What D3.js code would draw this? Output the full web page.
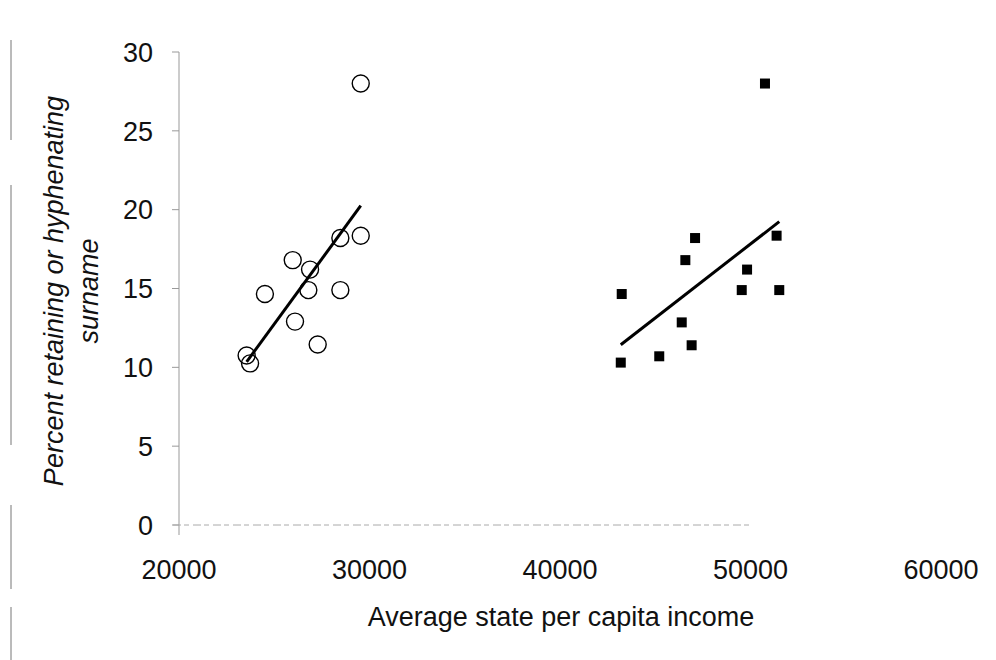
<!DOCTYPE html>
<html>
<head>
<meta charset="utf-8">
<script src="https://cdn.jsdelivr.net/npm/d3@7"></script>
<style>
  html, body { margin: 0; padding: 0; background: #fff; }
  svg { display: block; font-family: "Liberation Sans", Arial, sans-serif; }
</style>
</head>
<body>
<div id="chart"></div>
<script>
// Open circles (left group)
const incomeA = [29540, 28470, 29540, 25970, 26880, 24510, 26790, 28470, 26090, 27280, 23550, 23730];
const percentA = [28.0, 18.2, 18.35, 16.8, 16.2, 14.65, 14.9, 14.9, 12.9, 11.45, 10.75, 10.25];

// Filled squares (right group)
const incomeB = [50760, 47090, 51370, 46580, 49820, 43240, 49540, 51510, 46390, 46910, 45210, 43190];
const percentB = [28.0, 18.2, 18.35, 16.8, 16.2, 14.65, 14.9, 14.9, 12.85, 11.4, 10.7, 10.3];

const xTicks = [20000, 30000, 40000, 50000, 60000];
const yTicks = [0, 5, 10, 15, 20, 25, 30];

const width = 996, height = 660;

const svg = d3.select('#chart').append('svg')
    .attr('width', width)
    .attr('height', height);

const x = d3.scaleLinear().domain([20000, 60000]).range([179, 941]);
const y = d3.scaleLinear().domain([0, 30]).range([525, 52]);

// Scan border remnants on the left edge
svg.append('line')
    .attr('x1', 11).attr('x2', 11).attr('y1', 40).attr('y2', 660)
    .attr('stroke', '#777').attr('stroke-width', 1)
    .attr('stroke-dasharray', '100,45,260,60,84,18,60');

// Y axis (grey, thin)
svg.append('line')
    .attr('x1', x(20000)).attr('x2', x(20000))
    .attr('y1', y(30)).attr('y2', y(0) + 10)
    .attr('stroke', '#999').attr('stroke-width', 1);

svg.append('g').selectAll('line')
    .data(yTicks)
    .join('line')
    .attr('x1', x(20000) - 7).attr('x2', x(20000))
    .attr('y1', d => y(d)).attr('y2', d => y(d))
    .attr('stroke', '#999').attr('stroke-width', 1);

// X axis (faint, broken like the scan)
svg.append('line')
    .attr('x1', x(20000) - 6).attr('x2', x(50000))
    .attr('y1', y(0)).attr('y2', y(0))
    .attr('stroke', '#aaa').attr('stroke-width', 1)
    .attr('stroke-dasharray', '8,3,5,4');

// Y tick labels
svg.append('g').selectAll('text')
    .data(yTicks)
    .join('text')
    .attr('x', 153)
    .attr('y', d => y(d))
    .attr('dy', '0.36em')
    .attr('text-anchor', 'end')
    .attr('font-size', 27)
    .attr('fill', '#111')
    .text(d => d);

// X tick labels
svg.append('g').selectAll('text')
    .data(xTicks)
    .join('text')
    .attr('x', d => x(d))
    .attr('y', 579)
    .attr('text-anchor', 'middle')
    .attr('font-size', 27)
    .attr('fill', '#111')
    .text(d => d);

// Axis titles
svg.append('text')
    .attr('x', 561).attr('y', 626)
    .attr('text-anchor', 'middle')
    .attr('font-size', 27)
    .attr('fill', '#111')
    .text('Average state per capita income');

const yTitle = svg.append('text')
    .attr('transform', 'translate(63,291) rotate(-90)')
    .attr('text-anchor', 'middle')
    .attr('font-size', 27)
    .attr('font-style', 'italic')
    .attr('fill', '#111');
yTitle.append('tspan')
    .attr('x', 0).attr('y', 0)
    .text('Percent retaining or hyphenating');
yTitle.append('tspan')
    .attr('x', 0).attr('y', 35)
    .text('surname');

// Least squares fit
function fit(xs, ys) {
    const mx = d3.mean(xs), my = d3.mean(ys);
    const sxy = d3.sum(xs, (v, i) => (v - mx) * (ys[i] - my));
    const sxx = d3.sum(xs, v => (v - mx) * (v - mx));
    const b = sxy / sxx;
    const [x0, x1] = d3.extent(xs);
    return [[x0, my + b * (x0 - mx)], [x1, my + b * (x1 - mx)]];
}

const line = d3.line().x(d => x(d[0])).y(d => y(d[1]));

[[incomeA, percentA], [incomeB, percentB]].forEach(([xs, ys]) => {
    svg.append('path')
        .attr('d', line(fit(xs, ys)))
        .attr('fill', 'none')
        .attr('stroke', '#000')
        .attr('stroke-width', 3);
});

// Circles
svg.append('g').selectAll('circle')
    .data(incomeA.map((v, i) => [v, percentA[i]]))
    .join('circle')
    .attr('cx', d => x(d[0]))
    .attr('cy', d => y(d[1]))
    .attr('r', 8.5)
    .attr('fill', 'none')
    .attr('stroke', '#000')
    .attr('stroke-width', 1.4);

// Squares
svg.append('g').selectAll('rect')
    .data(incomeB.map((v, i) => [v, percentB[i]]))
    .join('rect')
    .attr('x', d => x(d[0]) - 5)
    .attr('y', d => y(d[1]) - 5)
    .attr('width', 10)
    .attr('height', 10)
    .attr('fill', '#000');
</script>
</body>
</html>
